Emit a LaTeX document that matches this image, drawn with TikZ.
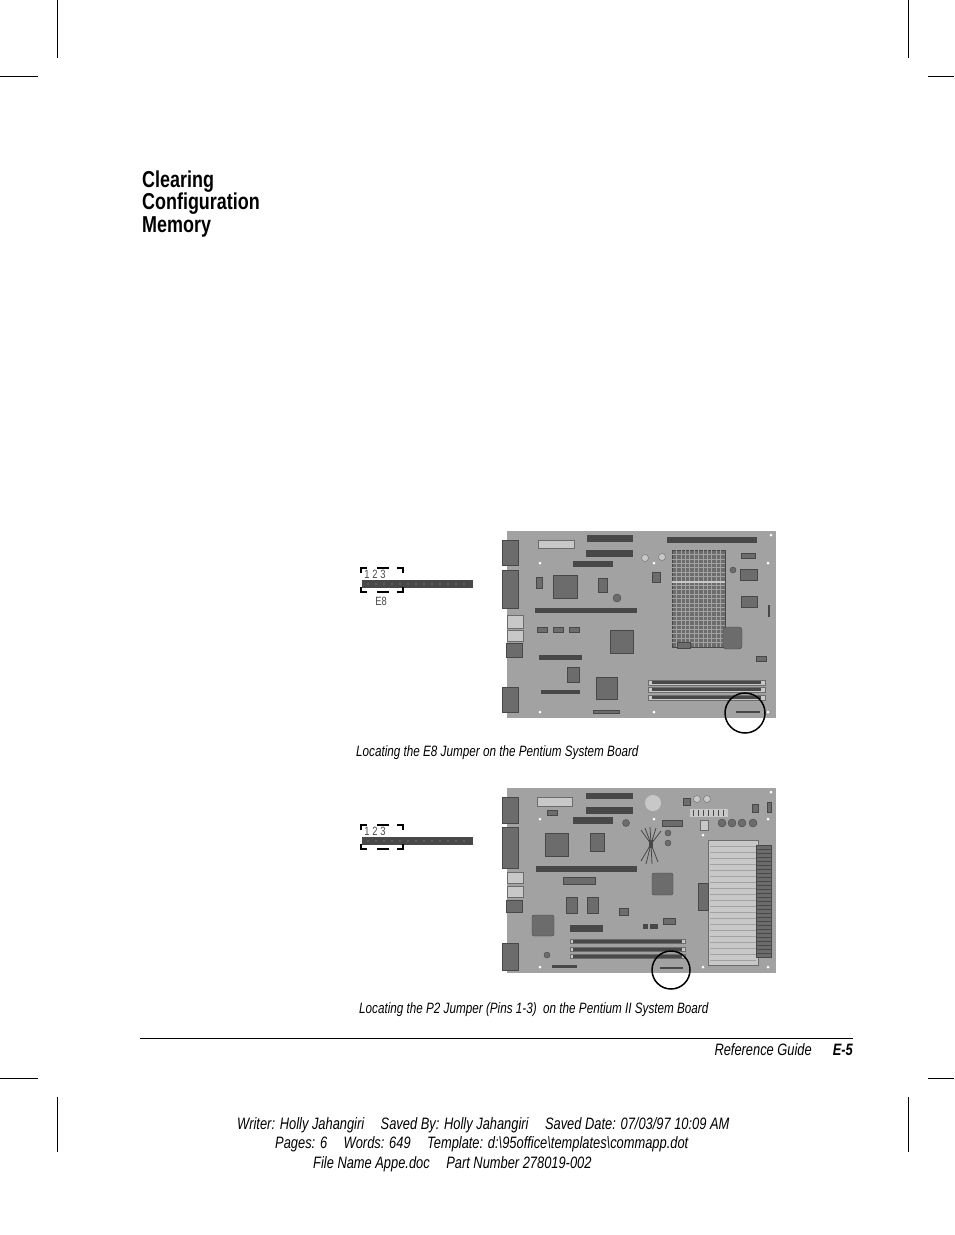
\documentclass[tikz,border=0pt]{standalone}
\usepackage{fontspec}
\setmainfont{Liberation Sans}[FakeStretch=0.78]
\usetikzlibrary{positioning}
\definecolor{boardgray}{HTML}{A2A2A2}
\definecolor{partgray}{HTML}{6C6C6C}
\definecolor{slotgray}{HTML}{484848}
\definecolor{lightpart}{HTML}{C8C8C8}

\begin{document}
\begin{tikzpicture}[x=1pt,y=-1pt,
  board/.style={fill=boardgray},
  part/.style={fill=partgray,draw=slotgray,line width=0.4pt},
  slot/.style={fill=slotgray},
  light_part/.style={fill=lightpart,draw=partgray,line width=0.4pt},
  hole/.style={fill=white},
  crop/.style={line width=0.8pt},
  ring/.style={draw,line width=1.5pt},
  bracket/.style={line width=1.6pt},
  heading/.style={font=\fontsize{23}{23}\bfseries\selectfont,anchor=base west,inner sep=0pt},
  caption/.style={font=\fontsize{15}{17}\itshape\selectfont,anchor=base west,inner sep=0pt},
  footer/.style={font=\fontsize{16.5}{19}\itshape\selectfont,anchor=base west,inner sep=0pt},
  pin_label/.style={font=\fontsize{12}{12}\selectfont,text=slotgray,inner sep=0pt}]
  \useasboundingbox (0,0) rectangle (954,1235);

  % crop marks
  \draw[crop] (57,0) -- (57,58);
  \draw[crop] (908,0) -- (908,58);
  \draw[crop] (0,76) -- (38,76);
  \draw[crop] (928,76) -- (954,76);
  \draw[crop] (0,1078) -- (38,1078);
  \draw[crop] (928,1078) -- (954,1078);
  \draw[crop] (57,1097) -- (57,1152);
  \draw[crop] (908,1097) -- (908,1152);

  % heading
  \node[heading] (title1) at (142,187) {Clearing};
  \node[heading] (title2) at (142,209) {Configuration};
  \node[heading] (title3) at (142,232) {Memory};

  % jumper details
  \foreach \dy in {0,257} {
    \begin{scope}[shift={(0,\dy)}]
      \path[slot] (362,580) rectangle (473,588);
      \foreach \px in {368,376,...,470}
        \fill[boardgray] (\px,584) circle (0.7);
      \draw[bracket] (361,573) |- (367,568) (377,568) -- (389,568) (397,568) -| (403,573);
      \draw[bracket] (361,587) |- (367,592) (377,592) -- (389,592) (397,592) -| (403,587);
      \node[pin_label] at (367,574) {1};
      \node[pin_label] at (375,574) {2};
      \node[pin_label] at (383,574) {3};
    \end{scope}
  }
  \node[pin_label] (e8) at (381,601) {E8};

  % Pentium board
  \path[board] (507,531) rectangle (776,718);
  \path[part] (502,540) rectangle (518,565);
  \path[part] (502,570) rectangle (518,608);
  \path[light_part] (507,615) rectangle (523,628);
  \path[light_part] (507,630) rectangle (523,641);
  \path[part] (506,643) rectangle (522,657);
  \path[part] (502,687) rectangle (518,712);
  \path[light_part] (538,540) rectangle (574,548);
  \path[slot] (587,535) rectangle (633,542);
  \path[slot] (586,550) rectangle (633,557);
  \path[slot] (573,561) rectangle (613,567);
  \path[slot] (667,537) rectangle (757,543);
  \path[part] (672,550) rectangle (725,647);
  \foreach \gx in {676.4,680.8,...,722}
    \draw[boardgray,line width=0.6pt] (\gx,550) -- (\gx,647);
  \foreach \gy in {554.4,558.8,...,645}
    \draw[boardgray,line width=0.6pt] (672,\gy) -- (725,\gy);
  \draw[lightpart,line width=1.2pt] (672,582) -- (725,582);
  \path[light_part] (645,558) circle (3.5);
  \path[light_part] (662,557) circle (3.5);
  \path[part] (652,572) rectangle (660,582);
  \path[part] (553,575) rectangle (577,598);
  \path[part] (536,577) rectangle (542,588);
  \path[part] (598,578) rectangle (607,592);
  \path[part] (617,598) circle (4);
  \path[slot] (535,608) rectangle (637,613);
  \path[part] (537,627) rectangle (547,632);
  \path[part] (553,627) rectangle (563,632);
  \path[part] (569,627) rectangle (579,632);
  \path[part] (610,630) rectangle (633,653);
  \path[slot] (539,655) rectangle (582,660);
  \path[part] (567,667) rectangle (579,682);
  \path[part] (596,677) rectangle (617,699);
  \path[slot] (541,690) rectangle (580,694);
  \path[part] (593,710) rectangle (619,713);
  \path[part] (741,553) rectangle (755,558);
  \path[part] (733,570) circle (3);
  \path[part] (740,569) rectangle (757,580);
  \path[part] (741,596) rectangle (757,607);
  \path[part,rounded corners=3pt] (723,627) rectangle (742,649);
  \path[part] (677,642) rectangle (690,648);
  \path[part] (756,656) rectangle (766,661);
  \path[slot] (768,605) rectangle (770,617);
  \foreach \sy in {680,687,695} {
    \path[light_part] (648,\sy) rectangle (765,\sy+5);
    \path[slot] (652,\sy+1) rectangle (761,\sy+4);
  }
  \foreach \hx/\hy in {540/563,654/563,768/563,540/712,654/712,768/712,771/535}
    \path[hole] (\hx,\hy) circle (1.5);
  \path[slot] (736,711) rectangle (760,713);
  \draw[ring] (745,713) circle (20);

  \node[caption] (cap1) at (356,756) {Locating the E8 Jumper on the Pentium System Board};

  % Pentium II board
  \path[board] (507,788) rectangle (776,973);
  \path[part] (502,797) rectangle (518,823);
  \path[part] (502,827) rectangle (518,868);
  \path[light_part] (507,872) rectangle (523,883);
  \path[light_part] (507,886) rectangle (523,897);
  \path[part] (506,900) rectangle (522,912);
  \path[part] (502,943) rectangle (518,970);
  \path[light_part] (537,797) rectangle (572,806);
  \path[slot] (586,793) rectangle (633,799);
  \path[slot] (586,807) rectangle (633,814);
  \path[slot] (573,817) rectangle (613,824);
  \path[part] (547,810) rectangle (557,815);
  \path[fill=lightpart] (653,803) circle (8);
  \path[part] (626,823) circle (3.5);
  \path[part] (545,833) rectangle (568,856);
  \path[part] (590,833) rectangle (604,851);
  \path[slot] (536,866) rectangle (637,872);
  \path[part] (563,877) rectangle (595,884);
  \path[part,rounded corners=2pt] (652,873) rectangle (673,895);
  \path[part] (566,897) rectangle (577,913);
  \path[part] (587,897) rectangle (598,913);
  \path[part] (619,908) rectangle (628,915);
  \path[part,rounded corners=2pt] (532,915) rectangle (554,936);
  \path[slot] (570,925) rectangle (603,932);
  \path[slot] (643,924) rectangle (648,929);
  \path[slot] (650,924) rectangle (658,929);
  \path[part] (663,918) rectangle (675,924);
  \foreach \sy in {939,947,954} {
    \path[light_part] (570,\sy) rectangle (685,\sy+4.5);
    \path[slot] (573,\sy+1) rectangle (682,\sy+3.5);
  }
  \path[part] (547,955) circle (3);
  \path[slot] (552,965) rectangle (577,968);
  \path[slot] (660,967) rectangle (683,969);
  % processor heatsink
  \path[light_part] (708,840) rectangle (758,965);
  \foreach \ly in {846,852,...,960}
    \draw[boardgray,line width=0.5pt] (710,\ly) -- (756,\ly);
  \path[part] (756,845) rectangle (771,957);
  \foreach \ly in {849,853,...,955}
    \draw[slotgray,line width=0.3pt] (756,\ly) -- (771,\ly);
  \path[part] (698,883) rectangle (708,910);
  % regulator area
  \path[part] (683,798) rectangle (690,805);
  \path[light_part] (697,799) circle (3.5);
  \path[light_part] (707,799) circle (3.5);
  \path[fill=lightpart] (690,809) rectangle (728,817);
  \foreach \tx in {693,698,...,726}
    \draw[slotgray,line width=0.8pt] (\tx,810) -- (\tx,816);
  \path[part] (752,804) rectangle (758,812);
  \path[part] (767,802) rectangle (771,812);
  \path[light_part] (700,820) rectangle (708,830);
  \path[part] (662,820) rectangle (682,826);
  \foreach \cx in {722,732,742,753}
    \path[part] (\cx,823) circle (4);
  \path[part] (668,833) circle (3);
  \path[part] (668,843) circle (3);
  % cooling fins
  \path[slot] (649,840) rectangle (653,848);
  \foreach \fx/\fy in {641/830,645/828,650/827,656/828,661/831,641/861,646/864,652/864,658/862}
    \draw[slotgray,line width=0.8pt] (651,844) -- (\fx,\fy);
  \foreach \hx/\hy in {540/819,654/819,768/819,540/967,703/967,768/967,703/835,771/792}
    \path[hole] (\hx,\hy) circle (1.5);
  \draw[ring] (671,970) circle (19);

  \node[caption] (cap2) at (359,1013) {Locating the P2 Jumper (Pins 1-3)\ \ on the Pentium II System Board};

  % footer
  \draw[line width=0.8pt] (140,1038) -- (853,1038);
  \node[footer,anchor=base east] (guide) at (812,1055) {Reference Guide};
  \node[footer,anchor=base east,font=\fontsize{16.5}{19}\bfseries\itshape\selectfont] (page) at (853,1055) {E-5};
  \node[footer] (info1) at (237,1129) {Writer: Holly Jahangiri\quad Saved By: Holly Jahangiri\quad Saved Date: 07/03/97 10:09 AM};
  \node[footer] (info2) at (275,1148) {Pages: 6\quad Words: 649\quad Template: d:\textbackslash 95office\textbackslash templates\textbackslash commapp.dot};
  \node[footer] (info3) at (313,1168) {File Name Appe.doc\quad Part Number 278019-002};
\end{tikzpicture}
\end{document}
